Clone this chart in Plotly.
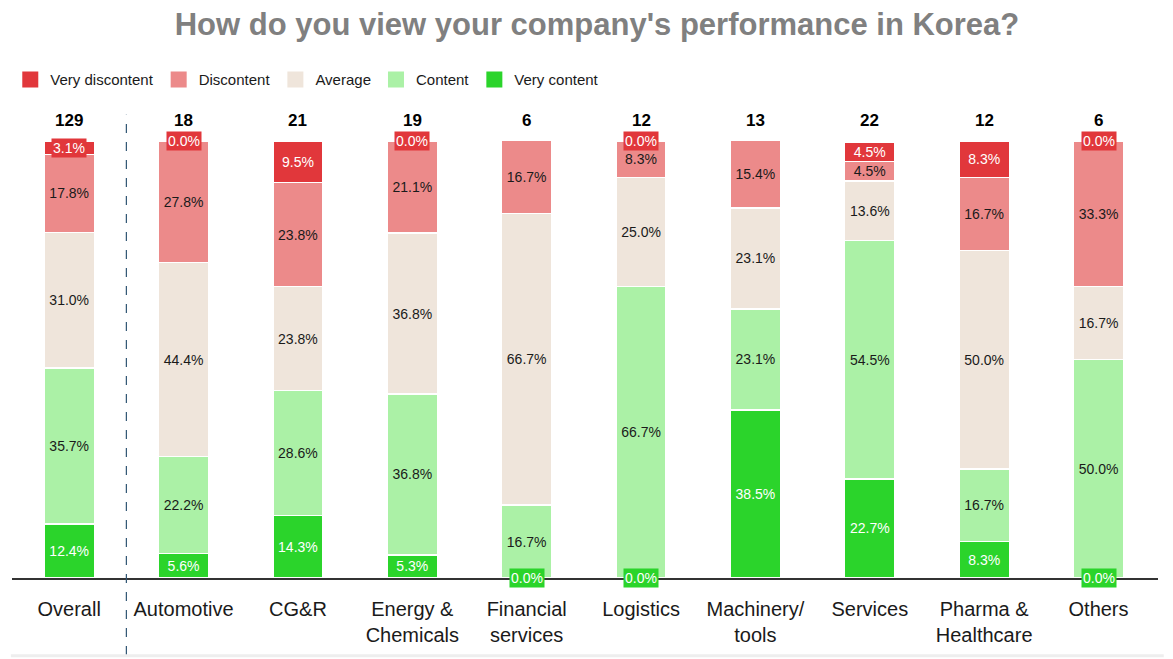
import plotly.graph_objects as go

categories = ["Overall", "Automotive", "CG&R", "Energy &<br>Chemicals", "Financial<br>services",
              "Logistics", "Machinery/<br>tools", "Services", "Pharma &<br>Healthcare", "Others"]
totals = [129, 18, 21, 19, 6, 12, 13, 22, 12, 6]

very_content = [12.4, 5.6, 14.3, 5.3, 0.0, 0.0, 38.5, 22.7, 8.3, 0.0]
content = [35.7, 22.2, 28.6, 36.8, 16.7, 66.7, 23.1, 54.5, 16.7, 50.0]
average = [31.0, 44.4, 23.8, 36.8, 66.7, 25.0, 23.1, 13.6, 50.0, 16.7]
discontent = [17.8, 27.8, 23.8, 21.1, 16.7, 8.3, 15.4, 4.5, 16.7, 33.3]
very_discontent = [3.1, 0.0, 9.5, 0.0, 0.0, 0.0, 0.0, 4.5, 8.3, 0.0]

series = [
    ("Very content", very_content, "#2BD42B", "white"),
    ("Content", content, "#ABF1A6", "#1a1a1a"),
    ("Average", average, "#EFE5DB", "#1a1a1a"),
    ("Discontent", discontent, "#EC8A8A", "#1a1a1a"),
    ("Very discontent", very_discontent, "#E1373B", "white"),
]

NARROW = "Liberation Sans Narrow, Arial Narrow, Liberation Sans, Arial, sans-serif"
x = list(range(len(categories)))

fig = go.Figure()
annotations = []
base = [0.0] * len(categories)
for name, vals, color, tcolor in series:
    texts = [f"{v:.1f}%" if v >= 4 else "" for v in vals]
    fig.add_trace(go.Bar(
        x=x, y=vals, name=name, marker=dict(color=color, line=dict(color="white", width=1.5)),
        text=texts, textposition="inside", insidetextanchor="middle", textangle=0,
        textfont=dict(color=tcolor, family=NARROW, size=14), width=0.44,
        hoverinfo="name+y", showlegend=False,
    ))
    for i, v in enumerate(vals):
        if v < 4:
            annotations.append(dict(
                x=i, y=base[i] + v / 2, xref="x", yref="y", text=f"{v:.1f}%", showarrow=False,
                bgcolor=color, font=dict(color=tcolor, family=NARROW, size=14),
                borderpad=1, yanchor="middle",
            ))
    base = [b + v for b, v in zip(base, vals)]

# legend entries with larger square swatches
for name, vals, color, tcolor in reversed(series):
    fig.add_trace(go.Scatter(
        x=[None], y=[None], mode="markers", name=name,
        marker=dict(symbol="square", size=20, color=color), showlegend=True,
    ))

for i, n in enumerate(totals):
    annotations.append(dict(
        x=i, y=100, xref="x", yref="y", text=f"<b>{n}</b>", showarrow=False,
        yanchor="bottom", yshift=9, font=dict(family=NARROW, size=17, color="black"),
    ))

fig.update_layout(
    barmode="stack",
    width=1157, height=651,
    margin=dict(l=2, r=7, t=133, b=81),
    paper_bgcolor="white", plot_bgcolor="white",
    title=dict(text="<b>How do you view your company's performance in Korea?</b>",
               x=589 / 1157, xanchor="center", y=1.0, yanchor="top", pad=dict(t=5),
               font=dict(family="Liberation Sans, Arial, sans-serif", size=31, color="#808080")),
    legend=dict(orientation="h", x=-0.0015, xanchor="left", y=1.14, yanchor="middle",
                traceorder="normal", font=dict(family=NARROW, size=15, color="#1a1a1a"),
                itemwidth=30, itemsizing="trace"),
    xaxis=dict(range=[-0.5, 9.52], tickmode="array", tickvals=x, ticktext=categories,
               showline=True, linecolor="#333333", linewidth=1.5, showgrid=False, zeroline=False,
               ticks="outside", ticklen=12, tickcolor="rgba(0,0,0,0)",
               tickfont=dict(family=NARROW, size=20, color="#1a1a1a")),
    yaxis=dict(range=[0, 100], visible=False, showgrid=False, zeroline=False),
    uniformtext=dict(minsize=14, mode="show"),
    annotations=annotations,
    shapes=[
        dict(type="line", xref="x", yref="paper", x0=0.5, x1=0.5, y0=-0.176, y1=1.06,
             line=dict(color="#2F5573", width=1.2, dash="dash")),
        dict(type="line", xref="paper", yref="paper", x0=-0.001, x1=1.005, y0=-0.178, y1=-0.178,
             line=dict(color="#EEEEEE", width=3)),
    ],
    bargap=0.56,
)

fig.write_html("out.html")
